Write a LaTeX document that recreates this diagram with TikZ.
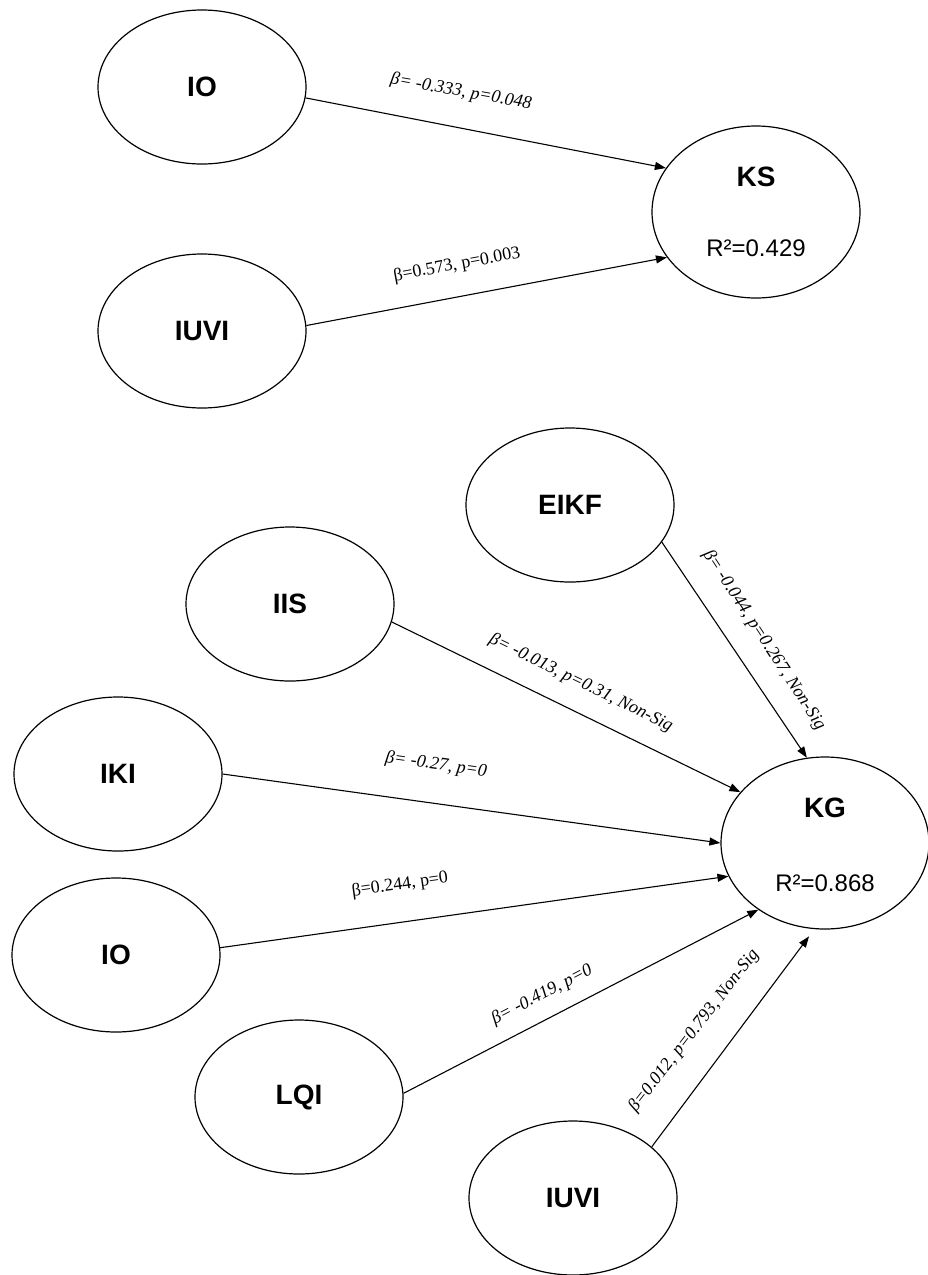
\documentclass[tikz,border=0pt]{standalone}
\usepackage{fontspec}
\setmainfont{Liberation Serif}
\newfontfamily\sansfont{Liberation Sans}
\usetikzlibrary{shapes.geometric,arrows.meta}
\begin{document}
\begin{tikzpicture}[x=1pt,y=-1pt,
  construct/.style={ellipse, draw, line width=1.2pt, minimum width=208pt,
    minimum height=154pt, inner sep=0pt,
    font=\sansfont\bfseries\fontsize{28}{30}\selectfont},
  outcome/.style={construct, minimum height=172pt},
  cname/.style={inner sep=0pt, font=\sansfont\bfseries\fontsize{28}{30}\selectfont},
  rsq/.style={inner sep=0pt, font=\sansfont\fontsize{24}{26}\selectfont},
  effect/.style={line width=1.1pt, -{Triangle[length=11pt,width=8pt]}},
  coef/.style={inner sep=1pt, font=\fontsize{18}{20}\selectfont},
  coefit/.style={inner sep=1pt, font=\fontsize{18}{20}\selectfont\itshape}]

\useasboundingbox (0,0) rectangle (927,1275);

% ---- upper model: knowledge sharing ----
\node[construct] (io1)   at (202,87)  {IO};
\node[construct] (iuvi1) at (202,331) {IUVI};
\node[outcome]   (ks)    at (756,212) {};
\node[cname] (kstext) at (756,177) {KS};
\node[rsq]   (ksrsq)  at (756,248) {R²=0.429};

\draw[effect] (io1.-6)   -- (ks.154);
\draw[effect] (iuvi1.3)  -- (ks.207);

\node[coefit, rotate=-10] (c1) at (461,92)  {β= -0.333, p=0.048};
\node[coef,   rotate=10.5] (c2) at (457,265) {β=0.573, p=0.003};

% ---- lower model: knowledge generation ----
\node[construct] (eikf)  at (570,505)  {EIKF};
\node[construct] (iis)   at (290,604)  {IIS};
\node[construct] (iki)   at (118,774)  {IKI};
\node[construct] (io2)   at (116,955)  {IO};
\node[construct] (lqi)   at (299,1097) {LQI};
\node[construct] (iuvi2) at (573,1198) {IUVI};
\node[outcome]   (kg)    at (825,843)  {};
\node[cname] (kgtext) at (825,808) {KG};
\node[rsq]   (kgrsq)  at (825,883) {R²=0.868};

\draw[effect] (eikf.-22) -- (kg.102);
\draw[effect] (iis.-10)  -- (kg.149);
\draw[effect] (iki.0)    -- (kg.180);
\draw[effect] (io2.4)    -- (kg.199);
\draw[effect] (lqi.2)    -- (kg.225);
\draw[effect, shorten >=9pt] (iuvi2.33) -- (kg.263);

\node[coefit, rotate=-57] (c3) at (764,640)  {β= -0.044, p=0.267, Non-Sig};
\node[coefit, rotate=-26] (c4) at (581,683)  {β= -0.013, p=0.31, Non-Sig};
\node[coefit, rotate=-8]  (c5) at (436,765)  {β= -0.27, p=0};
\node[coef,   rotate=8]   (c6) at (400,885)  {β=0.244, p=0};
\node[coefit, rotate=27.6] (c7) at (542,995) {β= -0.419, p=0};
\node[coefit, rotate=52]  (c8) at (694,1031) {β=0.012, p=0.793, Non-Sig};
\end{tikzpicture}
\end{document}
